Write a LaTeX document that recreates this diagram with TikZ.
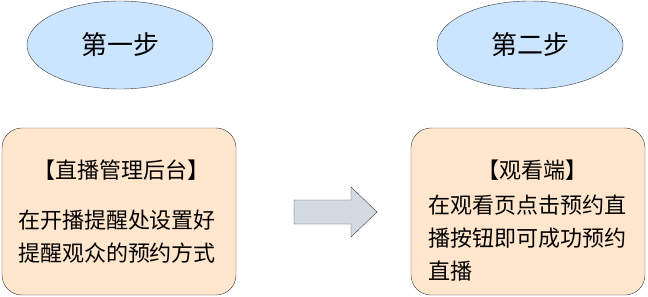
\documentclass[tikz,border=0pt]{standalone}
\usepackage{fontspec}
\setmainfont{Noto Sans CJK SC}
\usetikzlibrary{shapes.geometric, positioning}
\definecolor{stepblue}{HTML}{CCE5FF}
\definecolor{boxorange}{HTML}{FFE6CC}
\definecolor{arrowgray}{HTML}{D4DAE4}
\definecolor{edgegray}{HTML}{36393D}
\tikzset{
  stepoval/.style={ellipse, draw=edgegray, fill=stepblue, thin,
    minimum width=186pt, minimum height=88pt, font=\fontsize{26}{30}\selectfont},
  infobox/.style={rectangle, rounded corners=20pt, draw=edgegray, fill=boxorange, thin,
    minimum width=234pt, minimum height=167pt},
  boxtext/.style={inner sep=0pt, font=\fontsize{22}{33}\selectfont}
}
\begin{document}
\begin{tikzpicture}[x=1pt, y=-1pt]
  \useasboundingbox (0,0) rectangle (648,297);
  % ---- steps ----
  \node[stepoval] (step1) at (120,45) {第一步};
  \node[stepoval] (step2) at (530,45) {第二步};
  % ---- left box: admin ----
  \node[infobox] (admin) at (119,211.5) {};
  \node[boxtext] (admintitle) at (122,170) {【直播管理后台】};
  \node[boxtext, align=center] (adminbody) at (117,236.5)
    {在开播提醒处设置好\\提醒观众的预约方式};
  % ---- right box: viewer ----
  \node[infobox] (viewer) at (528,211.5) {};
  \node[boxtext] (viewertitle) at (532,170) {【观看端】};
  \node[boxtext, align=left, anchor=west] (viewerbody) at (428,238)
    {在观看页点击预约直\\播按钮即可成功预约\\直播};
  % ---- block arrow ----
  \draw[edgegray, fill=arrowgray, thin]
    (294,200) -- (351,200) -- (351,187) -- (377,212) -- (351,237)
    -- (351,224) -- (294,224) -- cycle;
\end{tikzpicture}
\end{document}
